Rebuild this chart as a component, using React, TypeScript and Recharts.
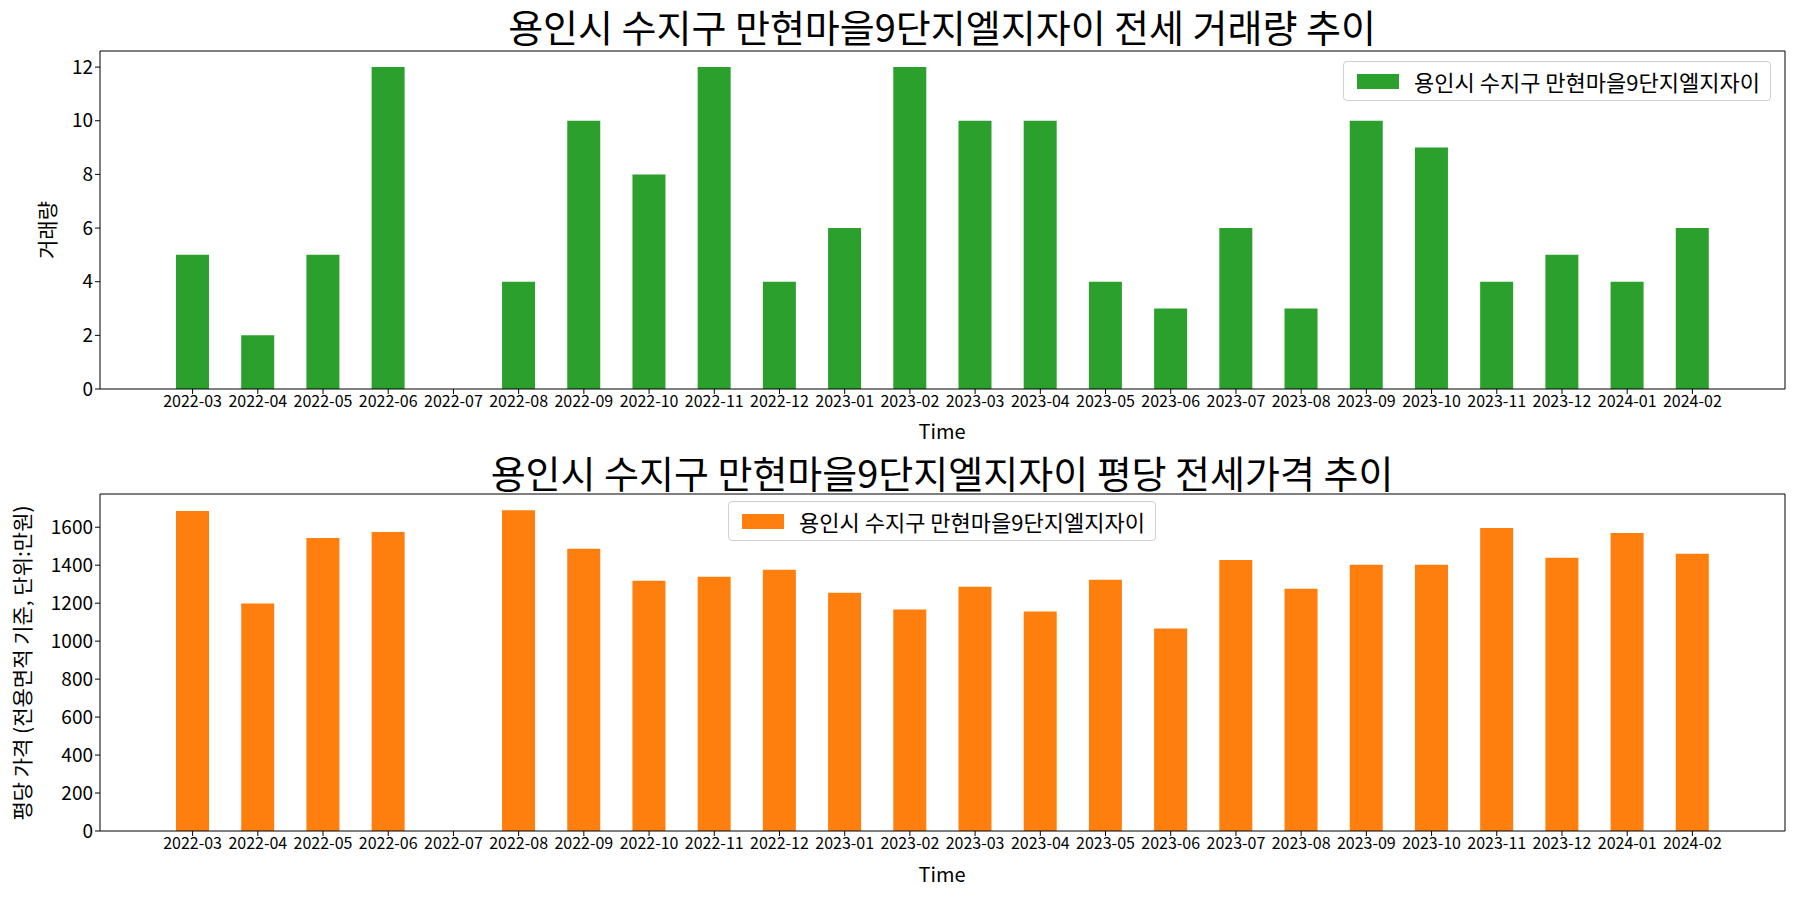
import { BarChart, Bar, XAxis, YAxis } from "recharts";

const months = [
  "2022-03", "2022-04", "2022-05", "2022-06", "2022-07", "2022-08",
  "2022-09", "2022-10", "2022-11", "2022-12", "2023-01", "2023-02",
  "2023-03", "2023-04", "2023-05", "2023-06", "2023-07", "2023-08",
  "2023-09", "2023-10", "2023-11", "2023-12", "2024-01", "2024-02",
];
const volumes = [5, 2, 5, 12, 0, 4, 10, 8, 12, 4, 6, 12, 10, 10, 4, 3, 6, 3, 10, 9, 4, 5, 4, 6];
const prices = [
  1685, 1198, 1543, 1575, null, 1690, 1486, 1318, 1339, 1376, 1255, 1166,
  1287, 1156, 1323, 1066, 1428, 1276, 1402, 1402, 1596, 1439, 1570, 1460,
];
const volumeTicks = [0, 2, 4, 6, 8, 10, 12];
const priceTicks = [0, 200, 400, 600, 800, 1000, 1200, 1400, 1600];

const seriesName = "용인시 수지구 만현마을9단지엘지자이";
const topTitle = "용인시 수지구 만현마을9단지엘지자이 전세 거래량 추이";
const bottomTitle = "용인시 수지구 만현마을9단지엘지자이 평당 전세가격 추이";

const FONT = '"Noto Sans CJK KR", "Noto Sans", sans-serif';
const GREEN = "#2ca02c";
const ORANGE = "#ff7f0e";

const volumeData = months.map((m, i) => ({ month: m, value: volumes[i] }));
const priceData = months.map((m, i) => ({ month: m, value: prices[i] }));

const tickStyle = { fill: "#000", fontSize: 16, fontFamily: FONT };
const yTickStyle = { fill: "#000", fontSize: 19, fontFamily: FONT };

type PanelProps = {
  data: { month: string; value: number | null }[];
  color: string;
  domain: [number, number];
  ticks: number[];
  top: number;
  bottom: number;
};

const Panel = ({ data, color, domain, ticks, top, bottom }: PanelProps) => (
  <BarChart
    width={1800}
    height={450}
    data={data}
    margin={{ top: top - 1, right: 14, bottom, left: 40 }}
  >
    <XAxis
      dataKey="month"
      interval={0}
      padding={{ left: 60, right: 60 }}
      tick={tickStyle}
      tickSize={5}
      tickLine={{ stroke: "#000" }}
      axisLine={{ stroke: "#000" }}
      height={30}
    />
    <XAxis
      xAxisId="top"
      dataKey="month"
      orientation="top"
      tick={false}
      tickLine={false}
      axisLine={{ stroke: "#000" }}
      height={1}
    />
    <YAxis
      domain={domain}
      ticks={ticks}
      tick={yTickStyle}
      tickSize={5}
      tickLine={{ stroke: "#000" }}
      axisLine={{ stroke: "#000" }}
      width={60}
      allowDataOverflow
    />
    <YAxis
      yAxisId="right"
      orientation="right"
      domain={domain}
      tick={false}
      tickLine={false}
      axisLine={{ stroke: "#000" }}
      width={1}
    />
    <Bar dataKey="value" name={seriesName} fill={color} barSize={33} isAnimationActive={false} />
  </BarChart>
);

const LegendBox = ({ color, style }: { color: string; style: React.CSSProperties }) => (
  <div
    style={{
      position: "absolute",
      height: 40,
      boxSizing: "border-box",
      display: "flex",
      alignItems: "center",
      gap: 15,
      padding: "0 10px 0 13px",
      border: "1px solid #d0d0d0",
      borderRadius: 4,
      background: "rgba(255,255,255,0.8)",
      fontSize: 22,
      whiteSpace: "nowrap",
      ...style,
    }}
  >
    <span style={{ width: 42, height: 15, background: color, display: "inline-block" }} />
    <span>{seriesName}</span>
  </div>
);

const text = (
  content: string,
  left: number,
  top: number,
  size: number,
  rotate = false
) => (
  <div
    style={{
      position: "absolute",
      left,
      top,
      fontSize: size,
      whiteSpace: "nowrap",
      transform: `translate(-50%, -50%)${rotate ? " rotate(-90deg)" : ""}`,
      lineHeight: 1,
    }}
  >
    {content}
  </div>
);

export default function App() {
  return (
    <div
      style={{
        position: "absolute",
        left: 0,
        top: 0,
        width: 1800,
        height: 900,
        background: "#fff",
        fontFamily: FONT,
        color: "#000",
      }}
    >
      <div style={{ position: "absolute", left: 0, top: 0 }}>
        <Panel data={volumeData} color={GREEN} domain={[0, 12.6]} ticks={volumeTicks} top={51} bottom={31} />
      </div>
      <div style={{ position: "absolute", left: 0, top: 450 }}>
        <Panel data={priceData} color={ORANGE} domain={[0, 1775]} ticks={priceTicks} top={44} bottom={39} />
      </div>
      {text(topTitle, 942, 26, 38)}
      {text(bottomTitle, 942, 472, 38)}
      {text("Time", 942, 431, 20)}
      {text("Time", 942, 874, 20)}
      {text("거래량", 46, 230, 21, true)}
      {text("평당 가격 (전용면적 기준, 단위:만원)", 21, 663, 21, true)}
      <LegendBox color={GREEN} style={{ right: 29, top: 61 }} />
      <LegendBox color={ORANGE} style={{ left: 942, top: 501, transform: "translateX(-50%)" }} />
    </div>
  );
}
